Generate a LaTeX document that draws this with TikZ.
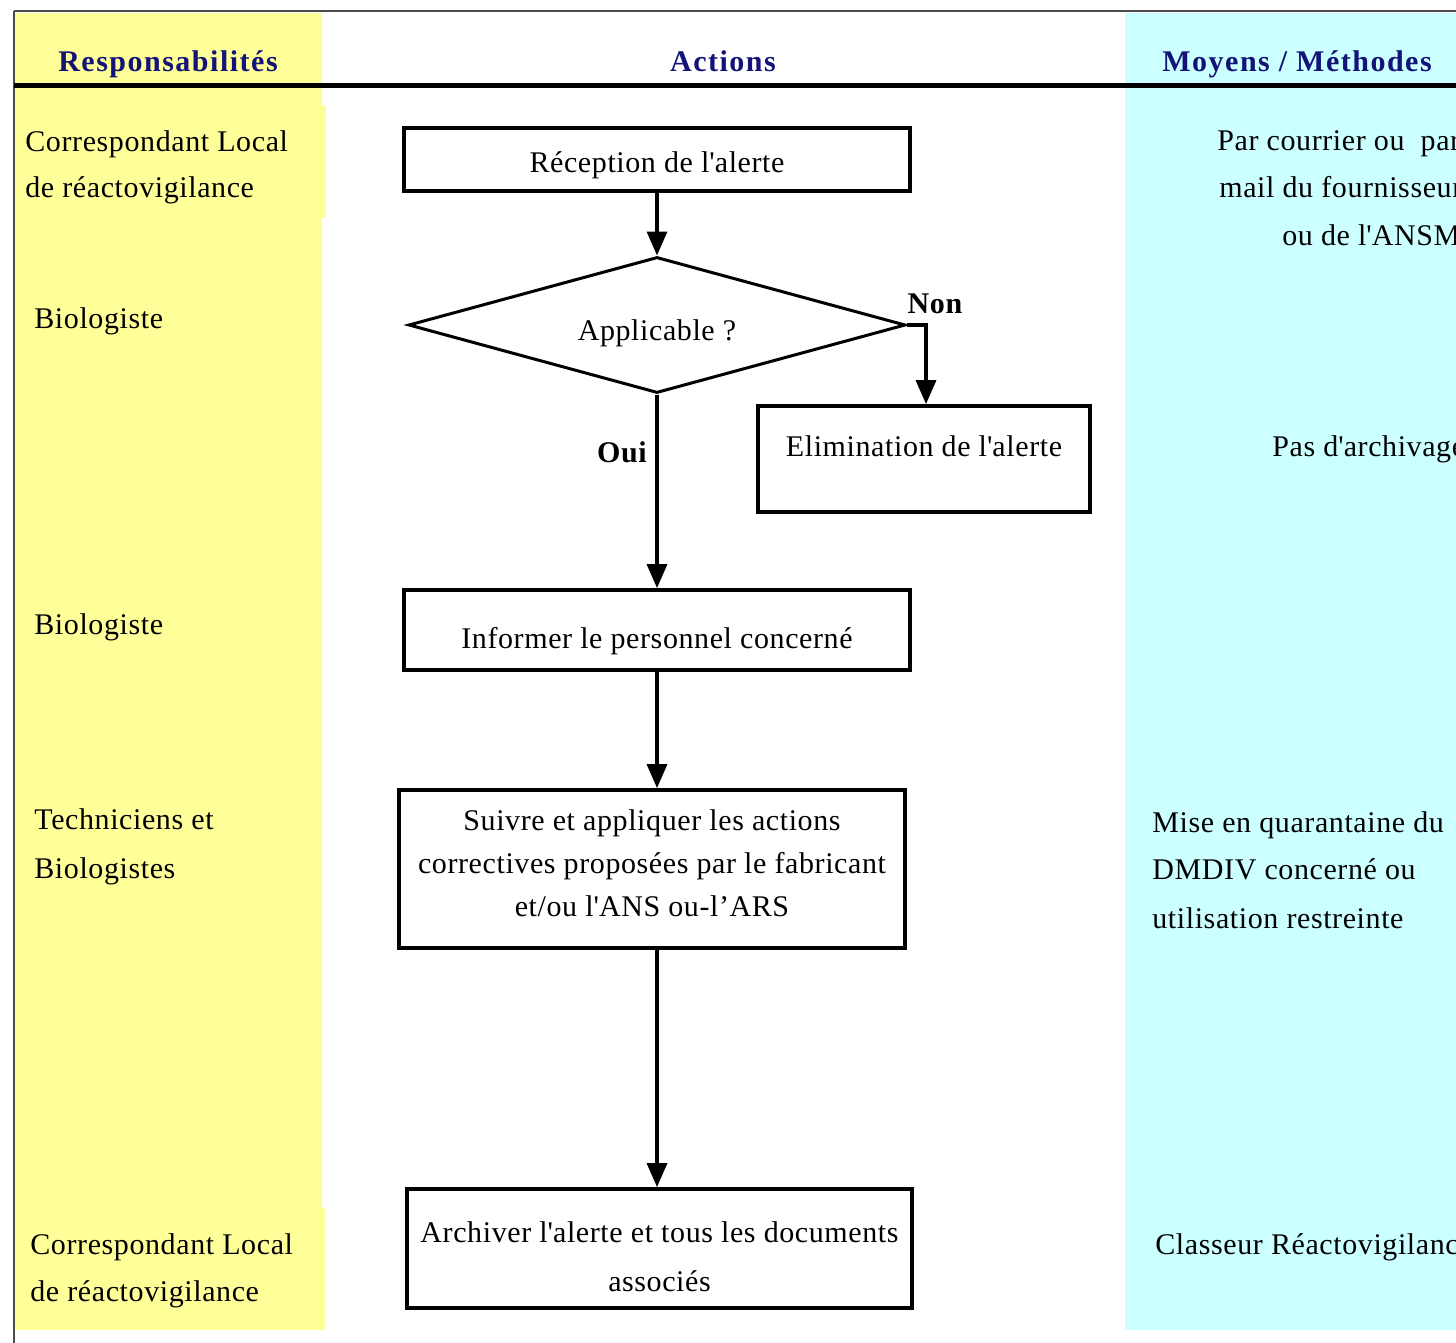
\documentclass[tikz,border=0pt]{standalone}
\usepackage{fontspec}
\setmainfont{Liberation Serif}[LetterSpace=2]
\newfontfamily\headf{Liberation Serif}[LetterSpace=5]
\usetikzlibrary{shapes.geometric,arrows.meta}
\definecolor{ylw}{RGB}{255,255,153}
\definecolor{cyn}{RGB}{204,255,255}
\definecolor{navy}{RGB}{20,20,120}
\newcommand{\qs}{\textquotesingle}
\begin{document}
\begin{tikzpicture}[x=0.5pt,y=-0.5pt,
 box/.style={draw,line width=1.9pt,inner sep=0pt},
 btxt/.style={inner sep=0pt,align=center,font=\fontsize{15}{21.5}\selectfont},
 conn/.style={line width=1.7pt,-{Triangle[length=12pt,width=10pt]}},
 hdr/.style={font=\headf\bfseries\fontsize{15}{18}\selectfont,text=navy,anchor=base,inner sep=0pt},
 lab/.style={font=\fontsize{15}{18}\selectfont,anchor=base west,inner sep=0pt},
 yn/.style={font=\bfseries\fontsize{15}{18}\selectfont,anchor=base,inner sep=0pt}]
\useasboundingbox (0,0) rectangle (1456,1343);
\clip (0,0) rectangle (1456,1343);
% column backgrounds
\fill[ylw] (15,13) rectangle (322,1330);
\fill[ylw] (320,105) rectangle (326,218);
\fill[ylw] (320,1208) rectangle (325,1330);
\fill[cyn] (1125,13) rectangle (1456,1330);
\draw[line width=1pt,black!70] (14,11) -- (1456,11);
\draw[line width=1pt,black!70] (14,11) -- (14,1343);
\draw[line width=2.7pt] (14,85.5) -- (1456,85.5);
% headers
\node[hdr] (h1) at (168,72) {Responsabilités};
\node[hdr] (h2) at (723,72) {Actions};
\node[hdr] (h3) at (1297,72) {Moyens / Méthodes};
% flow shapes
\node[box,minimum width=253pt,minimum height=31.5pt] (rec) at (657,159.5) {};
\node[draw,shape=diamond,aspect=3.65,line width=1.5pt,inner sep=0pt,minimum width=248.5pt,minimum height=68pt] (dia) at (657,325) {};
\node[box,minimum width=166pt,minimum height=53pt] (eli) at (924,459) {};
\node[box,minimum width=253pt,minimum height=40pt] (inf) at (657,630) {};
\node[box,minimum width=253pt,minimum height=79pt] (sui) at (652,869) {};
\node[box,minimum width=252.5pt,minimum height=59.5pt] (arc) at (659.5,1248.5) {};
% texts of the flow shapes
\node[btxt] (recT) at (657,165.5) {Réception de l\qs alerte};
\node[btxt] (diaT) at (657,333) {Applicable ?};
\node[btxt] (eliT) at (924,446.5) {Elimination de l\qs alerte};
\node[btxt] (infT) at (657,641.5) {Informer le personnel concerné};
\node[btxt] (suiT) at (652,863) {Suivre et appliquer les actions\\correctives proposées par le fabricant\\et/ou l\qs ANS ou-l’ARS};
\node[btxt,font=\fontsize{15}{24.5}\selectfont] (arcT) at (659.5,1256.5) {Archiver l\qs alerte et tous les documents\\associés};
% connectors
\draw[conn] (rec.south -| dia.north) -- (dia.north);
\draw[conn] (dia.east) -| (eli.north -| 926,0);
\draw[conn] (dia.south) -- (inf.north -| dia.south);
\draw[conn] (inf.south -| dia.south) -- (sui.north -| dia.south);
\draw[conn] (sui.south -| dia.south) -- (arc.north -| dia.south);
\node[yn] (non) at (935,313) {Non};
\node[yn] (oui) at (622,462) {Oui};
% responsibilities
\node[lab] (r1a) at (25,151) {Correspondant Local};
\node[lab] (r1b) at (25,197) {de réactovigilance};
\node[lab] (r2) at (34,328) {Biologiste};
\node[lab] (r3) at (34,634) {Biologiste};
\node[lab] (r4a) at (34,829) {Techniciens et};
\node[lab] (r4b) at (34,878) {Biologistes};
\node[lab] (r5a) at (30,1254) {Correspondant Local};
\node[lab] (r5b) at (30,1301) {de réactovigilance};
% means / methods
\node[lab] (m1a) at (1217,150) {Par courrier ou\ \ par};
\node[lab] (m1b) at (1219,197) {mail du fournisseur};
\node[lab] (m1c) at (1282,245) {ou de l\qs ANSM};
\node[lab] (m2) at (1272,456) {Pas d\qs archivage};
\node[lab] (m3a) at (1152,832) {Mise en quarantaine du};
\node[lab] (m3b) at (1152,879) {DMDIV concerné ou};
\node[lab] (m3c) at (1152,928) {utilisation restreinte};
\node[lab] (m4) at (1155,1254) {Classeur Réactovigilance};
\end{tikzpicture}
\end{document}
